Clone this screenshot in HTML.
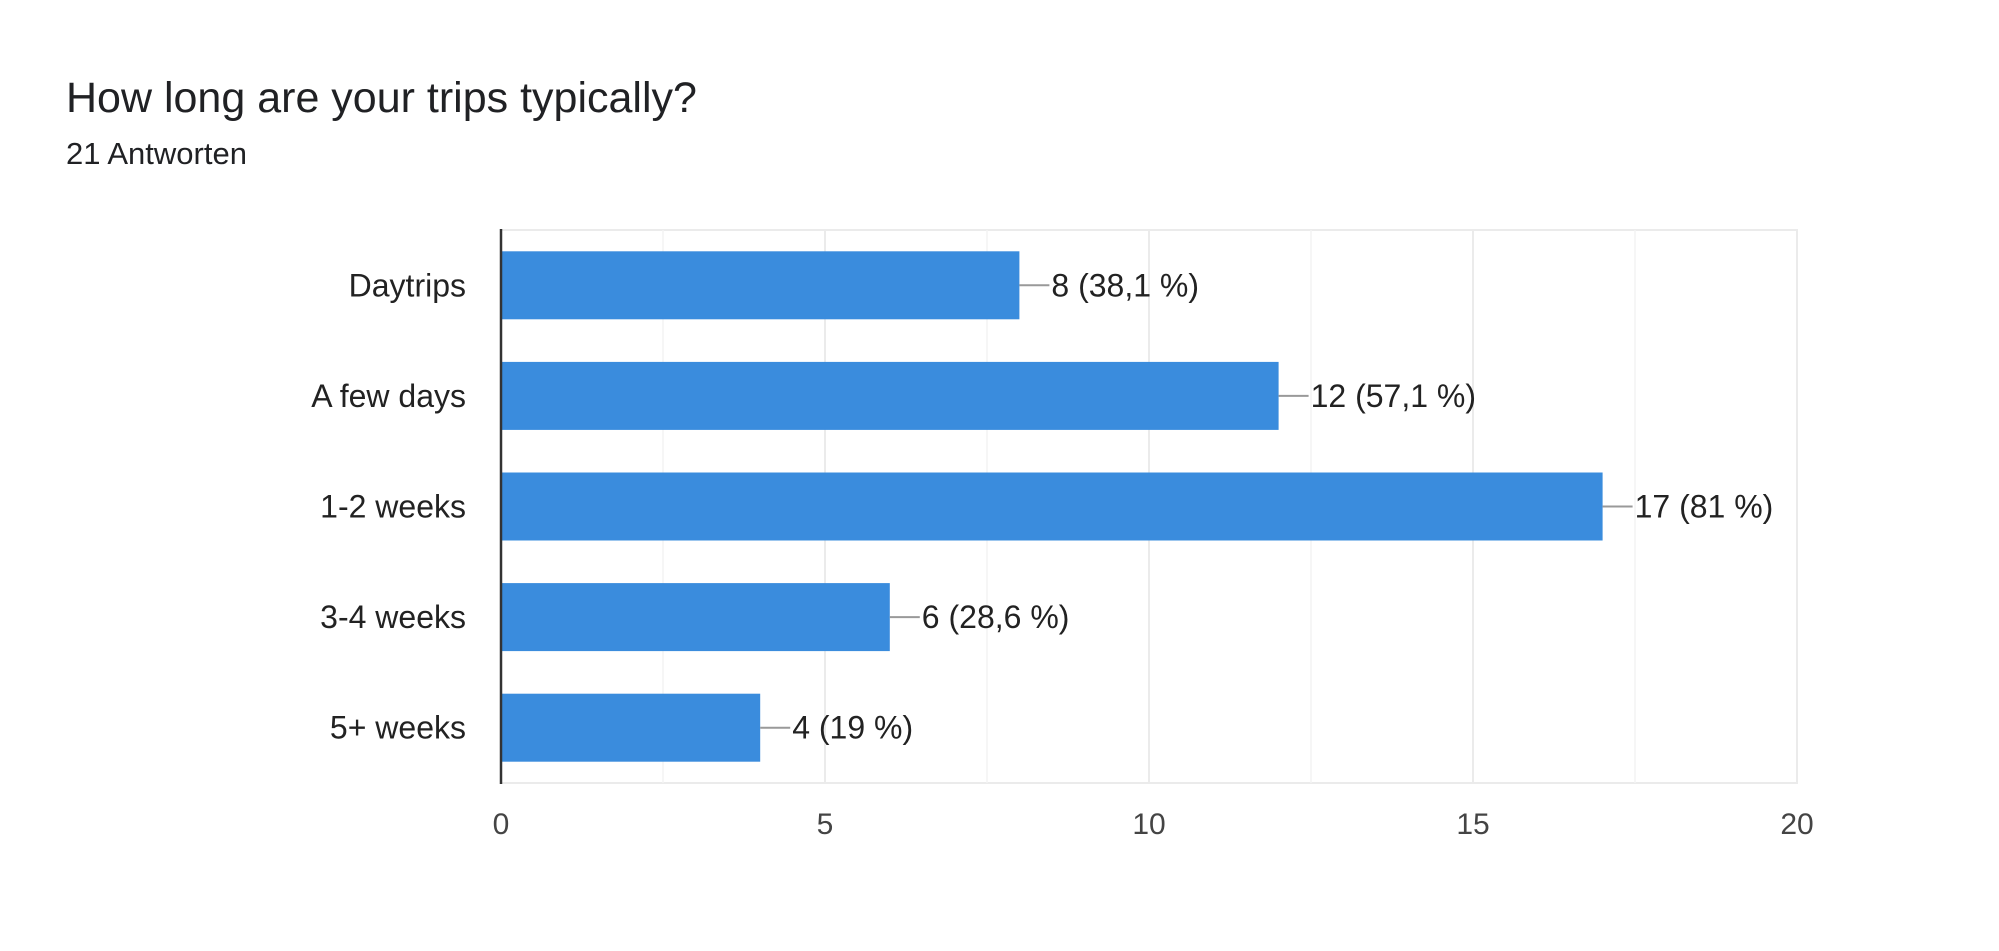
<!DOCTYPE html>
<html><head><meta charset="utf-8"><style>
body{margin:0;background:#fff;font-family:"Liberation Sans",Arial,sans-serif;}
svg{display:block}
</style></head><body>
<svg width="1999" height="951">
<text x="66" y="112" font-size="43" fill="#202124">How long are your trips typically?</text>
<text x="66" y="164" font-size="31" fill="#202124">21 Antworten</text>
<g id="g"></g>
</svg>
<script>
const categories=["Daytrips","A few days","1-2 weeks","3-4 weeks","5+ weeks"];
const values=[8,12,17,6,4];
const valueLabels=["8 (38,1 %)","12 (57,1 %)","17 (81 %)","6 (28,6 %)","4 (19 %)"];
const ticks=[0,5,10,15,20];
const minorTicks=[2.5,7.5,12.5,17.5];
const NS="http://www.w3.org/2000/svg";
const g=document.getElementById('g');
const X0=501,X1=1797,Y0=230,Y1=783,MAX=20;
const x=v=>X0+(v/MAX)*(X1-X0);
const band=(Y1-Y0)/categories.length;
const y=i=>Y0+band*(i+0.5);
function mk(t,a){const e=document.createElementNS(NS,t);for(const k in a)e.setAttribute(k,a[k]);g.appendChild(e);return e;}
let r=mk('rect',{x:X0,y:Y0,width:X1-X0,height:Y1-Y0,fill:'none',stroke:'#ebebeb','stroke-width':2});


minorTicks.forEach(t=>{const l=mk('line',{x1:x(t),x2:x(t),y1:Y0,y2:Y1,stroke:'#f3f3f3','stroke-width':1.5});

});
ticks.forEach(t=>{const l=mk('line',{x1:x(t),x2:x(t),y1:Y0,y2:Y1,stroke:'#ebebeb','stroke-width':2});


const tx=mk('text',{x:x(t),y:834,'font-size':30,fill:'#444','text-anchor':'middle'});tx.textContent=t;

});
categories.forEach((c,i)=>{
const cy=y(i),h=68;
const b=mk('rect',{x:X0,y:cy-h/2,width:x(values[i])-X0,height:h,fill:'#3a8cdd'});


const cl=mk('text',{x:466,y:cy+11,'font-size':32,fill:'#222','text-anchor':'end'});cl.textContent=c;


const ln=mk('line',{x1:x(values[i]),x2:x(values[i])+30,y1:cy,y2:cy,stroke:'#999','stroke-width':2});


const vl=mk('text',{x:x(values[i])+32,y:cy+11,'font-size':32,fill:'#222'});vl.textContent=valueLabels[i];


});
const ax=mk('line',{x1:X0,x2:X0,y1:Y0-1,y2:Y1+1,stroke:'#333','stroke-width':2.5});


</script>
</body></html>
